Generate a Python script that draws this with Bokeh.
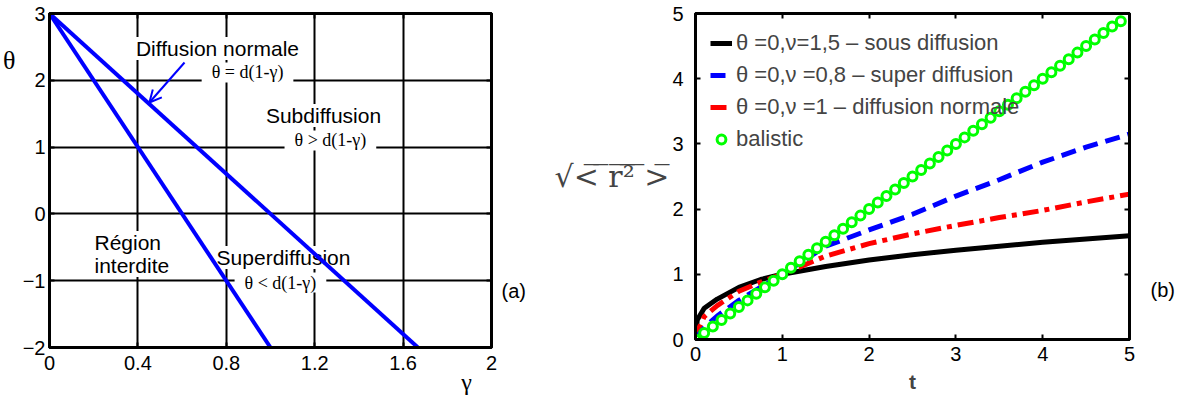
from bokeh.plotting import figure
from bokeh.models import (Range1d, FixedTicker, Label, Legend, LegendItem,
                          Arrow, OpenHead, LinearAxis)
from bokeh.layouts import row
from bokeh.embed import file_html
from bokeh.resources import INLINE

SANS = "Liberation Sans"
SERIF = "Liberation Serif"

# ---------------- panel (a) data ----------------
gamma_ticks = [0, 0.4, 0.8, 1.2, 1.6, 2]
theta_ticks = [-2, -1, 0, 1, 2, 3]
gamma_normal = [0.0, 1.667]      # theta = d(1-gamma), d = 3
theta_normal = [3.0, -2.0]
gamma_super = [0.0, 1.0]
theta_super = [3.0, -2.0]

# ---------------- panel (b) data ----------------
t_ticks = [0, 1, 2, 3, 4, 5]
r_ticks = [0, 1, 2, 3, 4, 5]
t_curve = [0, 0.02, 0.1, 0.25, 0.5, 0.75, 1.0, 1.5, 2.0, 2.5, 3.0, 3.5, 4.0, 4.5, 5.0]
r_sous = [0, 0.30, 0.48, 0.62, 0.80, 0.92, 1.00, 1.12, 1.22, 1.30, 1.37, 1.43, 1.49, 1.54, 1.59]
r_super = [0, 0.05, 0.18, 0.36, 0.60, 0.80, 1.00, 1.43, 1.68, 1.92, 2.20, 2.45, 2.72, 2.95, 3.15]
r_normal = [0, 0.12, 0.35, 0.52, 0.74, 0.88, 1.00, 1.28, 1.47, 1.62, 1.75, 1.87, 1.98, 2.11, 2.23]
t_balistic = [0.0, 0.1, 0.2, 0.3, 0.4, 0.5, 0.6, 0.7, 0.8, 0.9,
              1.0, 1.1, 1.2, 1.3, 1.4, 1.5, 1.6, 1.7, 1.8, 1.9,
              2.0, 2.1, 2.2, 2.3, 2.4, 2.5, 2.6, 2.7, 2.8, 2.9,
              3.0, 3.1, 3.2, 3.3, 3.4, 3.5, 3.6, 3.7, 3.8, 3.9,
              4.0, 4.1, 4.2, 4.3, 4.4, 4.5, 4.6, 4.7, 4.8, 4.9]
r_balistic = [0.0, 0.1, 0.2, 0.3, 0.4, 0.5, 0.6, 0.7, 0.8, 0.9,
              1.0, 1.1, 1.2, 1.3, 1.4, 1.5, 1.6, 1.7, 1.8, 1.9,
              2.0, 2.1, 2.2, 2.3, 2.4, 2.5, 2.6, 2.7, 2.8, 2.9,
              3.0, 3.1, 3.2, 3.3, 3.4, 3.5, 3.6, 3.7, 3.8, 3.9,
              4.0, 4.1, 4.2, 4.3, 4.4, 4.5, 4.6, 4.7, 4.8, 4.88]
legend_labels = ["\u03b8 =0,\u03bd=1,5 \u2013 sous diffusion",
                 "\u03b8 =0,\u03bd =0,8 \u2013 super diffusion",
                 "\u03b8 =0,\u03bd =1 \u2013 diffusion normale",
                 "balistic"]
OL = "\u0305"
ylabel_b = "\u221a<" + OL + " " + OL + "r" + OL + "\u00b2" + OL + " " + OL + ">" + OL


def style(p, xt, yt, xstand, ystand):
    p.background_fill_color = "white"
    p.border_fill_color = "white"
    p.outline_line_color = "black"
    p.outline_line_width = 3
    xa, ya = p.below[0], p.left[0]
    xa.ticker = FixedTicker(ticks=xt)
    ya.ticker = FixedTicker(ticks=yt)
    p.xgrid.ticker = FixedTicker(ticks=xt)
    p.ygrid.ticker = FixedTicker(ticks=yt)
    for ax in (xa, ya):
        ax.axis_line_width = 3
        ax.axis_line_color = "black"
        ax.major_tick_in = 5
        ax.major_tick_out = 0
        ax.major_tick_line_width = 2
        ax.minor_tick_line_color = None
        ax.major_label_text_font = SANS
        ax.major_label_text_font_size = "20px"
        ax.major_label_text_color = "black"
    xa.major_label_standoff = xstand
    ya.major_label_standoff = ystand
    for loc, t in (("above", xt), ("right", yt)):
        ax = LinearAxis(ticker=FixedTicker(ticks=t), major_label_text_font_size="1px",
                        major_label_text_color=None,
                        major_label_standoff=0, major_tick_in=5, major_tick_out=0,
                        major_tick_line_width=2, minor_tick_line_color=None,
                        axis_line_width=3)
        p.add_layout(ax, loc)
    return xa, ya


def text_axis(p, loc, pos, text, font, size, standoff, style="normal"):
    ax = LinearAxis(ticker=FixedTicker(ticks=[pos]), major_label_overrides={pos: text},
                    major_label_text_font=font, major_label_text_font_size=size,
                    major_label_text_font_style=style, major_label_text_color="black",
                    major_label_standoff=standoff, major_tick_line_color=None,
                    minor_tick_line_color=None, axis_line_color=None,
                    major_tick_in=0, major_tick_out=0)
    p.add_layout(ax, loc)


def lab(p, x, y, text, font=SANS, size="21px", align="center", pad=(10, 0)):
    l = Label(x=x, y=y, text=text, text_font=font, text_font_size=size, text_align=align,
              text_baseline="middle", text_color="black", level="underlay",
              background_fill_color="white", padding=pad)
    p.add_layout(l)
    return l


# ---------------- panel (a) ----------------
p1 = figure(frame_width=442, frame_height=334, x_range=Range1d(0, 2), y_range=Range1d(-2, 3),
            min_border_left=48, min_border_right=60, min_border_top=13, min_border_bottom=40,
            output_backend="svg", toolbar_location=None)
xa1, ya1 = style(p1, gamma_ticks, theta_ticks, 8, 4)
xa1.major_label_overrides = {0: "0", 2: "2"}
p1.grid.grid_line_color = "black"
p1.grid.grid_line_width = 2

lab(p1, 0.760, 2.476, "Diffusion normale")
lab(p1, 0.896, 2.117, "\u03b8 = d(1-\u03b3)", font=SERIF, size="18px")
lab(p1, 1.240, 1.473, "Subdiffusion")
lab(p1, 1.271, 1.099, "\u03b8 > d(1-\u03b3)", font=SERIF, size="18px")
lab(p1, 0.190, -0.428, "R\u00e9gion", align="left", pad=(3, 0))
lab(p1, 0.190, -0.772, "interdite", align="left", pad=(3, 0))
lab(p1, 1.059, -0.653, "Superdiffusion", pad=(3, 0))
lab(p1, 1.045, -1.027, "\u03b8 < d(1-\u03b3)", font=SERIF, size="18px")

p1.line(gamma_normal, theta_normal, line_color="#0000ff", line_width=4)
p1.line(gamma_super, theta_super, line_color="#0000ff", line_width=4)

p1.add_layout(Arrow(end=OpenHead(size=12, line_color="#0000ff", line_width=2),
                    x_start=0.611, y_start=2.266, x_end=0.452, y_end=1.668,
                    line_color="#0000ff", line_width=2))

text_axis(p1, "left", 2.296, "\u03b8", SERIF, "26px", 4)
text_axis(p1, "below", 1.887, "\u03b3", SERIF, "24px", -4)
text_axis(p1, "right", -1.147, "(a)", SANS, "20px", 10)

# ---------------- panel (b) ----------------
p2 = figure(frame_width=434, frame_height=326, x_range=Range1d(0, 5), y_range=Range1d(0, 5),
            min_border_left=143, min_border_right=50, min_border_top=13, min_border_bottom=40,
            output_backend="svg", toolbar_location=None)
xa2, ya2 = style(p2, t_ticks, r_ticks, 7, 12)
p2.grid.visible = False

r_b = p2.line(t_curve, r_sous, line_color="black", line_width=5)
r_r = p2.line(t_curve, r_normal, line_color="#ff0000", line_width=5, line_dash="16 6 5 6")
r_bl = p2.line(t_curve, r_super, line_color="#0000ff", line_width=5, line_dash="15 8")
r_g = p2.scatter(t_balistic, r_balistic, size=9, line_color="#00ff00", line_width=3, fill_color="white")

legend = Legend(items=[LegendItem(label=legend_labels[0], renderers=[r_b]),
                       LegendItem(label=legend_labels[1], renderers=[r_bl]),
                       LegendItem(label=legend_labels[2], renderers=[r_r]),
                       LegendItem(label=legend_labels[3], renderers=[r_g])],
                location="top_left", margin=15, padding=2, spacing=2,
                label_height=30, glyph_height=30, glyph_width=22, label_standoff=4,
                label_text_font=SANS, label_text_font_size="22px",
                border_line_color=None, background_fill_alpha=0)
p2.add_layout(legend)

ya2.axis_label = ylabel_b
ya2.axis_label_orientation = "horizontal"
ya2.axis_label_text_font = "DejaVu Serif"
ya2.axis_label_text_font_style = "normal"
ya2.axis_label_text_font_size = "30px"
ya2.axis_label_standoff = 0

xa2.axis_label = "t"
xa2.axis_label_text_font = SANS
xa2.axis_label_text_font_style = "bold"
xa2.axis_label_text_font_size = "21px"
xa2.axis_label_standoff = 6

text_axis(p2, "right", 0.752, "(b)", SANS, "20px", 21)

layout = row(p1, p2)
open("out.html", "w").write(file_html(layout, INLINE))
